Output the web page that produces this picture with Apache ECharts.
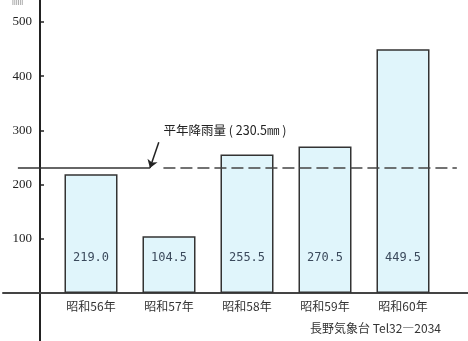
<!DOCTYPE html>
<html><head><meta charset="utf-8">
<script src="https://cdn.jsdelivr.net/npm/echarts@6/dist/echarts.min.js"></script>
<style>html,body{margin:0;padding:0;background:#fff}#c{width:468px;height:341px}</style>
</head><body><div id="c"></div>
<script>
const categories = ['昭和56年','昭和57年','昭和58年','昭和59年','昭和60年'];
const rainfall = [219.0, 104.5, 255.5, 270.5, 449.5];
const normalRain = 230.5;
const yTicks = [100, 200, 300, 400, 500];
const normalLabel = '平年降雨量 ( 230.5㎜ )';
const credit = '長野気象台 Tel32―2034';

const chart = echarts.init(document.getElementById('c'));
const yBase = {type:'value', min:-88.6, max:540.6, splitLine:{show:false}};
const gridPos = {top:0, bottom:0, outerBoundsMode:'none', containLabel:false};
chart.setOption({
  animation:false,
  backgroundColor:'#fff',
  grid:[
    Object.assign({left:52, width:390}, gridPos),
    Object.assign({left:40, right:0}, gridPos),
    Object.assign({left:3, right:0}, gridPos)
  ],
  xAxis:[
    {type:'category', gridIndex:0, data:categories, position:'bottom', offset:-48,
     axisLine:{show:false, onZero:false}, axisTick:{show:false},
     axisLabel:{show:true, margin:7, color:'#333', fontSize:12, fontFamily:'Noto Sans CJK JP'}},
    {type:'value', gridIndex:1, min:0, max:1, show:false},
    {type:'value', gridIndex:2, min:0, max:1, axisLine:{show:true, onZero:true, lineStyle:{color:'#444', width:2}},
     axisTick:{show:false}, axisLabel:{show:false}, splitLine:{show:false}}
  ],
  yAxis:[
    Object.assign({gridIndex:0, show:false}, yBase),
    Object.assign({gridIndex:1,
      axisLine:{show:true, lineStyle:{color:'#222', width:2}},
      axisTick:{show:true, inside:true, length:4, lineStyle:{color:'#222', width:1.5},
        customValues: yTicks},
      axisLabel:{margin:8, color:'#222', fontSize:13, fontFamily:'Liberation Serif',
        customValues: yTicks}
    }, yBase),
    Object.assign({gridIndex:2, show:false}, yBase)
  ],
  series:[
    {type:'bar', xAxisIndex:0, yAxisIndex:0, data:rainfall, barWidth:53,
     itemStyle:{color:'#e0f5fb', borderColor:'#333', borderWidth:1.5},
     label:{show:true, position:'insideBottom', distance:29, color:'#3b4a5c', fontSize:12,
       fontFamily:'DejaVu Sans Mono', formatter:p=>p.value.toFixed(1)}},
    {type:'line', xAxisIndex:2, yAxisIndex:2, symbol:'none', z:5,
     data:[[0.032, normalRain],[0.316, normalRain]],
     lineStyle:{color:'#333', width:1.5},
     markLine:{silent:true, symbol:['none','arrow'], symbolSize:8,
       lineStyle:{color:'#222', width:1.5, type:'solid'}, label:{show:false},
       data:[[{coord:[0.335, 278]},{coord:[0.316, normalRain]}]]},
     markPoint:{symbol:'circle', symbolSize:0,
       data:[{coord:[0.345, 300]}],
       label:{show:true, position:'right', distance:0, formatter:normalLabel, color:'#222',
         fontSize:12.5, fontFamily:'Noto Sans CJK JP'}}},
    {type:'line', xAxisIndex:2, yAxisIndex:2, symbol:'none', z:5,
     data:[[0.345, normalRain],[0.976, normalRain]],
     lineStyle:{color:'#444', width:1.5, type:[12,5]}}
  ],
  graphic:[
    {type:'text', left:310, top:322, style:{text:credit, fill:'#333', fontSize:12, fontFamily:'Noto Sans CJK JP'}},
    {type:'text', left:12, top:-5, style:{text:'㎜', fill:'#999', fontSize:11, fontFamily:'Noto Sans CJK JP'}}
  ]
});
</script></body></html>
